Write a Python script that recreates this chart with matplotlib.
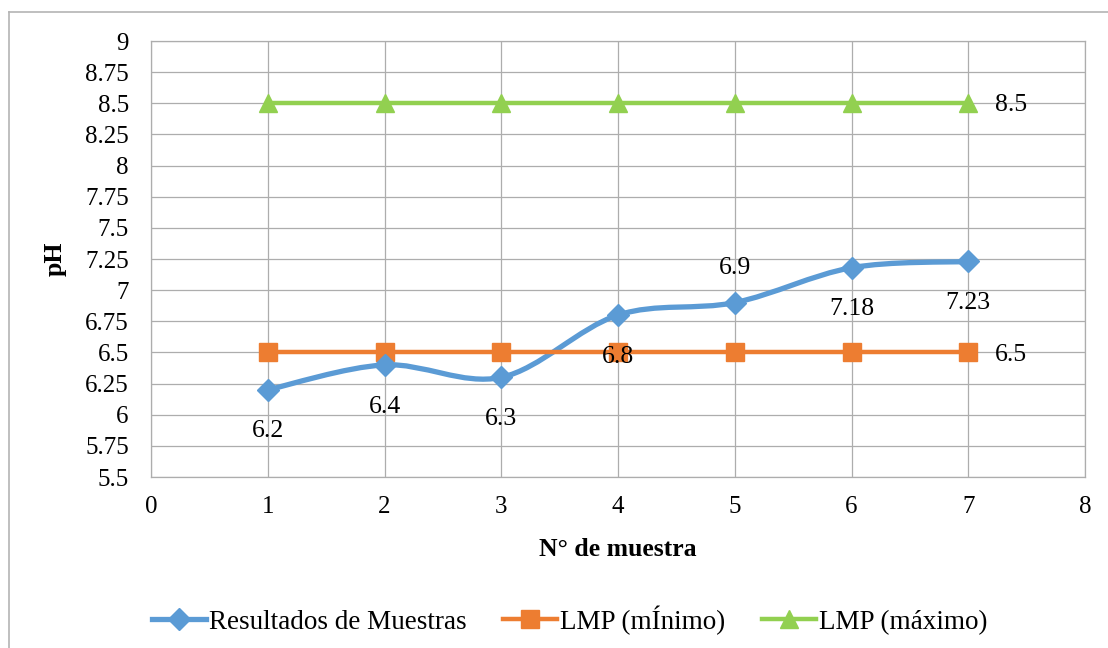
import numpy as np
import matplotlib.pyplot as plt
from matplotlib.path import Path
from matplotlib.patches import PathPatch
from matplotlib.lines import Line2D

plt.rcParams['font.family'] = ['Liberation Serif', 'DejaVu Serif']

muestra = [1, 2, 3, 4, 5, 6, 7]
resultados = [6.2, 6.4, 6.3, 6.8, 6.9, 7.18, 7.23]
lmp_min = [6.5, 6.5, 6.5, 6.5, 6.5, 6.5, 6.5]
lmp_max = [8.5, 8.5, 8.5, 8.5, 8.5, 8.5, 8.5]
# where each result label sits: 1 = above the point, -1 = below
label_side = [-1, -1, -1, -1, 1, -1, -1]

BLUE = '#5B9BD5'
ORANGE = '#ED7D31'
GREEN = '#92D050'
GRID = '#ADADAD'


def smooth_path(x, y):
    # bezier segments through every point, like a "smoothed line" in a spreadsheet
    pts = np.column_stack([x, y]).astype(float)
    n = len(pts)
    verts = [pts[0]]
    codes = [Path.MOVETO]
    for i in range(n - 1):
        p0 = pts[i - 1] if i > 0 else pts[i]
        p1 = pts[i]
        p2 = pts[i + 1]
        p3 = pts[i + 2] if i + 2 < n else pts[i + 1]
        c1 = p1 + (p2 - p0) / 6.0
        c2 = p2 - (p3 - p1) / 6.0
        verts += [c1, c2, p2]
        codes += [Path.CURVE4] * 3
    return Path(verts, codes)


fig = plt.figure(figsize=(11.08, 6.48), dpi=100)
ax = fig.add_axes([151 / 1108, 1 - 477 / 648, (1085 - 151) / 1108, (477 - 41) / 648])

# outer chart frame (top and left edges only are visible)
fig.add_artist(Line2D([9 / 1108, 9 / 1108], [0, 1 - 12 / 648], transform=fig.transFigure,
                      color='#B4B4B4', lw=1.2))
fig.add_artist(Line2D([9 / 1108, 1], [1 - 12 / 648, 1 - 12 / 648], transform=fig.transFigure,
                      color='#B4B4B4', lw=1.2))

ax.add_patch(PathPatch(smooth_path(muestra, resultados), facecolor='none',
                       edgecolor=BLUE, lw=3.8, capstyle='round', zorder=3))
ax.plot(muestra, resultados, ls='none', marker='D', ms=11.5, color=BLUE, zorder=4)
ax.plot(muestra, lmp_min, color=ORANGE, lw=3.2, marker='s', ms=13.5, zorder=3)
ax.plot(muestra, lmp_max, color=GREEN, lw=3.2, marker='^', ms=13.5, zorder=3)

for xi, yi, side in zip(muestra, resultados, label_side):
    off = 25 if side > 0 else -30
    ax.annotate(f'{yi:g}', (xi, yi), xytext=(0, off), textcoords='offset points',
                ha='center', va='center', fontsize=18.5, zorder=5)
ax.annotate(f'{lmp_max[-1]:g}', (muestra[-1], lmp_max[-1]), xytext=(19, -1.5),
            textcoords='offset points', ha='left', va='center', fontsize=18.5)
ax.annotate(f'{lmp_min[-1]:g}', (muestra[-1], lmp_min[-1]), xytext=(19, -1.5),
            textcoords='offset points', ha='left', va='center', fontsize=18.5)

ax.set_xlim(0, 8)
ax.set_ylim(5.5, 9)
ax.set_xticks(range(0, 9))
yt = np.arange(5.5, 9.01, 0.25)
ax.set_yticks(yt)
ax.set_yticklabels([f'{v:g}' for v in yt])
ax.tick_params(length=0, labelsize=18, pad=14)
ax.tick_params(axis='y', pad=16)
ax.grid(True, color=GRID, lw=0.9)
ax.set_axisbelow(True)
for sp in ax.spines.values():
    sp.set_color(GRID)
    sp.set_linewidth(0.9)

ax.set_xlabel('N° de muestra', fontsize=18.5, fontweight='bold', labelpad=14)
ax.set_ylabel('pH', fontsize=18.5, fontweight='bold', labelpad=13)

handles = [
    Line2D([], [], color=BLUE, lw=3.8, marker='D', ms=11.5),
    Line2D([], [], color=ORANGE, lw=3.2, marker='s', ms=13.5),
    Line2D([], [], color=GREEN, lw=3.2, marker='^', ms=13.5),
]
fig.legend(handles, ['Resultados de Muestras', 'LMP (mÍnimo)', 'LMP (máximo)'],
           loc='center', bbox_to_anchor=(0.514, 0.043), ncol=3, frameon=False,
           fontsize=19.5, handlelength=2.0, handletextpad=0.1, columnspacing=1.35)

fig.savefig('out.png', dpi=100, facecolor='white')
